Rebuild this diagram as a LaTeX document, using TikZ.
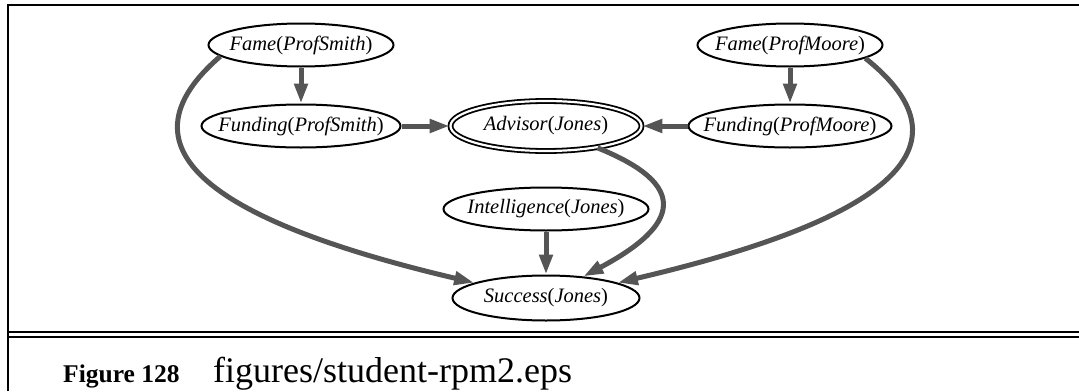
\documentclass[tikz,border=0pt]{standalone}
\usepackage{fontspec}
\setmainfont{Liberation Serif}
\usepackage{xcolor}
\usetikzlibrary{arrows.meta,shapes.geometric,positioning}
\definecolor{edgegray}{RGB}{85,85,85}
\newcommand{\attr}[2]{\makebox[0pt]{\textit{#1}(\textit{#2})}}

\begin{document}
\begin{tikzpicture}[x=1pt, y=-1pt,
  var/.style={draw, ellipse, line width=2pt, inner sep=0pt,
              minimum height=43pt, font=\fontsize{20.5}{24}\selectfont},
  query/.style={var, double=white, double distance=2.2pt, line width=1.8pt},
  arr/.style={-{Triangle[length=20pt,width=13pt]}, line width=5pt, draw=edgegray},
  caption/.style={anchor=base west, inner sep=0pt}
]
\useasboundingbox (0,0) rectangle (1079,391);
% frame
\draw[line width=2.6pt] (8,391) -- (8,5) -- (1079,5);
\draw[line width=2.6pt] (8,332) -- (1079,332);
\draw[line width=2.6pt] (8,337) -- (1079,337);

\node[var, minimum width=185pt] (fs) at (301,45) {\attr{Fame}{ProfSmith}};
\node[var, minimum width=199pt] (fsf) at (301,126) {\attr{Funding}{ProfSmith}};
\node[query, minimum width=191pt, minimum height=50pt] (aj) at (546,126) {\attr{Advisor}{Jones}};
\node[var, minimum width=203pt] (fmf) at (790,126) {\attr{Funding}{ProfMoore}};
\node[var, minimum width=185pt] (fm) at (790,45) {\attr{Fame}{ProfMoore}};
\node[var, minimum width=205pt] (ij) at (546,209) {\attr{Intelligence}{Jones}};
\node[var, minimum width=187pt, minimum height=45pt] (sj) at (546,298) {\attr{Success}{Jones}};

\draw[arr] (fs) -- (fsf);
\draw[arr] (fm) -- (fmf);
\draw[arr] (fsf) -- (aj);
\draw[arr] (fmf) -- (aj);
\draw[arr] (ij) -- (sj);
\draw[arr] (fs.188) .. controls (100,160) and (250,230) .. (sj.168);
\draw[arr] (aj.-23) .. controls (690,185) and (680,225) .. (sj.30);
\draw[arr] (fm.-10) .. controls (993,160) and (843,230) .. (sj.12);

\node[caption, font=\bfseries\fontsize{25.5}{29}\selectfont] (fignum) at (63,382) {Figure 128};
\node[caption, font=\fontsize{36}{42}\selectfont] (figfile) at (213,382) {figures/student-rpm2.eps};
\end{tikzpicture}
\end{document}
